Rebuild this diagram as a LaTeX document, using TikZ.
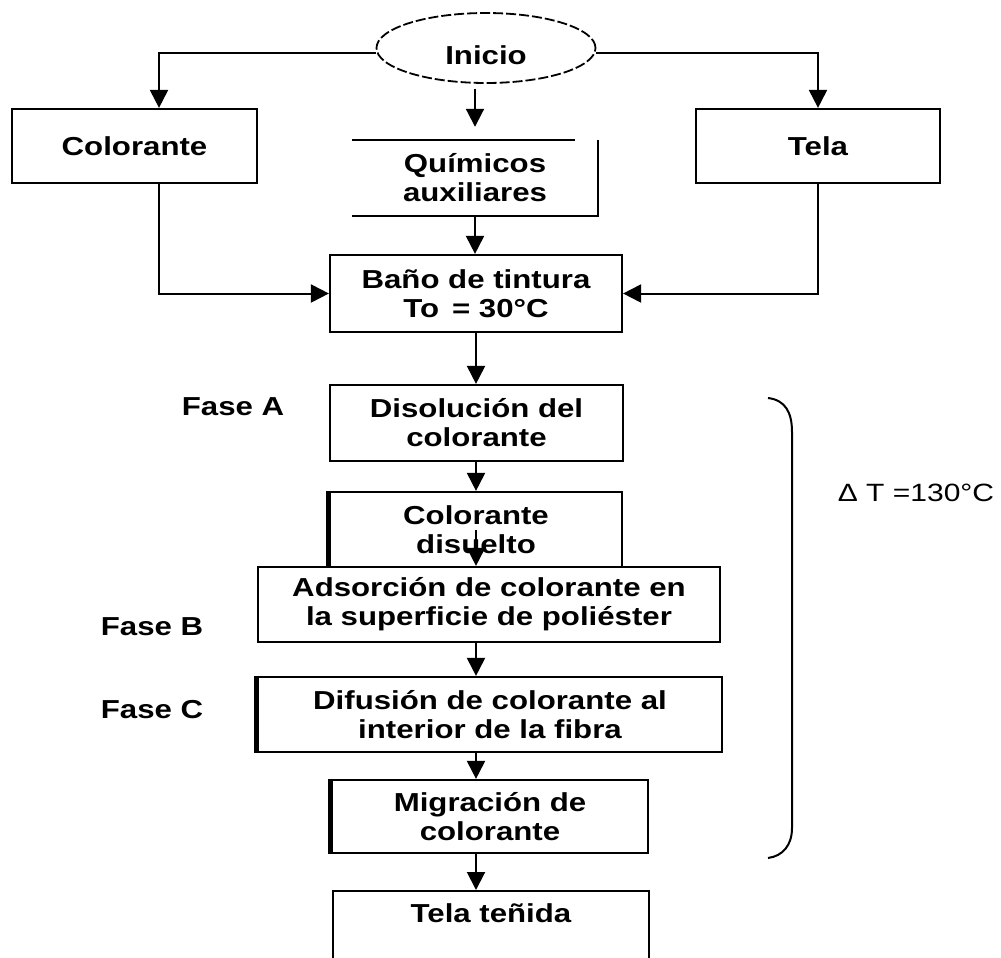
\documentclass[tikz,border=0pt]{standalone}
\usepackage{fontspec}
\setmainfont{Liberation Sans}[FakeStretch=1.2]
\usetikzlibrary{arrows.meta,shapes.geometric,calc}
\begin{document}
\begin{tikzpicture}[x=1pt,y=-1pt,
  txt/.style={align=center,inner sep=0pt,font=\bfseries\fontsize{26}{29}\selectfont},
  box/.style={txt,draw,line width=2.2pt},
  arr/.style={line width=2pt,-{Triangle[width=18pt,length=18pt]}},
  ln/.style={line width=2.2pt},
  heavyedge/.style={line width=5pt}]
\useasboundingbox (0,0) rectangle (1001,958);
\clip (0,0) rectangle (1001,958);

\node[box,ellipse,dashed,dash pattern=on 10pt off 3pt,line width=1.8pt,
      minimum width=219pt,minimum height=70pt,text height=33pt,text depth=0pt] (inicio) at (486,48) {Inicio};
\node[box,minimum width=245pt,minimum height=74pt] (colorante) at (134.5,146) {Colorante};
\node[box,minimum width=244pt,minimum height=74pt] (tela) at (818,146) {Tela};
\node[txt,minimum width=245pt,minimum height=76pt] (quim) at (475,178) {Químicos\\auxiliares};
\node[box,minimum width=292pt,minimum height=77pt] (bano) at (476,293.5) {Baño de tintura\\To\enspace= 30°C};
\node[box,minimum width=293pt,minimum height=76pt] (disol) at (476.5,423) {Disolución del\\colorante};
\node[box,minimum width=292pt,minimum height=75pt] (cdis) at (476,529.5) {Colorante\\disuelto};
\node[box,minimum width=462pt,minimum height=75pt] (adsor) at (489,604.5) {Adsorción de colorante en\\la superficie de poliéster};
\node[box,minimum width=464pt,minimum height=75pt] (difus) at (490,714.5) {Difusión de colorante al\\interior de la fibra};
\node[box,minimum width=316pt,minimum height=73pt] (migr) at (490,816.5) {Migración de\\colorante};
\node[box,anchor=north,minimum width=316pt,minimum height=80pt,text height=19pt,text depth=36pt] (tten) at (491,890) {Tela teñida};

\node[txt] (fa) at (233,407) {Fase A};
\node[txt] (fb) at (152,627) {Fase B};
\node[txt] (fc) at (152,710) {Fase C};
\node[inner sep=0pt,font=\fontsize{25}{29}\selectfont] (dt) at (916,493) {Δ T =130°C};

% Quimicos open box
\draw[ln] (quim.north west) -- ([xshift=-23pt]quim.north east);
\draw[ln] (quim.north east) -- (quim.south east) -- (quim.south west);

% heavier left edges
\draw[heavyedge] (cdis.north west) -- (cdis.south west);
\draw[heavyedge] (difus.north west) -- (difus.south west);
\draw[heavyedge] (migr.north west) -- (migr.south west);

% connectors
\draw[arr] ([yshift=-5pt]inicio.west) -| ([xshift=24.5pt]colorante.north);
\draw[arr] ([yshift=-5pt]inicio.east) -| (tela.north);
\draw[arr,shorten <=5pt,shorten >=13pt] (inicio.south -| quim.north) -- (quim.north);
\draw[arr] (quim.south) -- (quim.south |- bano.north);
\draw[arr] ([xshift=24.5pt]colorante.south) |- (bano.west);
\draw[arr] (tela.south) |- (bano.east);
\draw[arr] (bano.south) -- (disol.north -| bano.south);
\draw[arr] (disol.south -| bano.south) -- (cdis.north -| bano.south);
\draw[arr] (cdis.center) -- (adsor.north -| cdis.center);
\draw[arr] (adsor.south -| bano.south) -- (difus.north -| bano.south);
\draw[arr] (difus.south -| bano.south) -- (migr.north -| bano.south);
\draw[arr] (migr.south -| bano.south) -- (tten.north -| bano.south);

% brace
\draw[line width=2pt] (768,398) .. controls (785,400) and (792,412) .. (792,432) -- (792,828) .. controls (792,845) and (783,856) .. (768,858);
\end{tikzpicture}
\end{document}
